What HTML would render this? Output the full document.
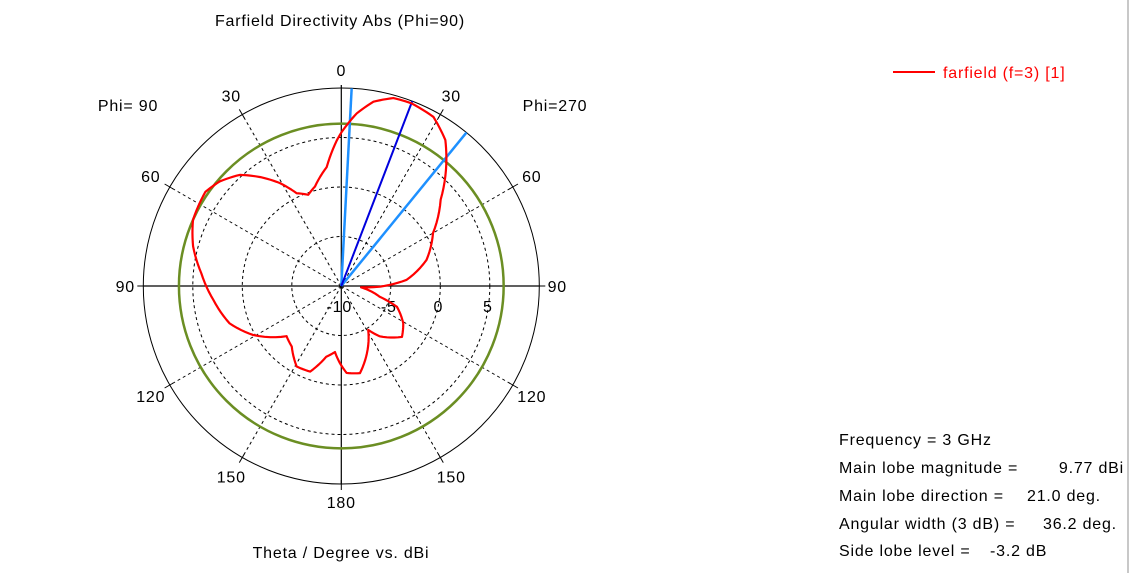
<!DOCTYPE html>
<html><head><meta charset="utf-8"><style>
html,body{margin:0;padding:0;background:#fff;width:1137px;height:573px;overflow:hidden}
svg{display:block}
text{font-family:"Liberation Sans",sans-serif;font-size:16px;fill:#000;letter-spacing:0.8px}
</style></head><body>
<svg id="chart" width="1137" height="573">
<line x1="1128" y1="0" x2="1128" y2="573" stroke="#c8c8c8" stroke-width="2"/>
<text x="340" y="26" text-anchor="middle">Farfield Directivity Abs (Phi=90)</text>
<g id="grid"></g>
<g id="marks"></g>
<text x="341" y="558" text-anchor="middle">Theta / Degree vs. dBi</text>
<text x="128" y="111" text-anchor="middle">Phi= 90</text>
<text x="555" y="111" text-anchor="middle">Phi=270</text>
<g>
<line x1="893" y1="72" x2="935" y2="72" stroke="#ff0000" stroke-width="2"/>
<text x="943" y="78" style="fill:#ff0000">farfield (f=3) [1]</text>
</g>
<g>
<text x="839" y="445">Frequency = 3 GHz</text>
<text x="839" y="473">Main lobe magnitude =</text>
<text x="1124" y="473" text-anchor="end">9.77 dBi</text>
<text x="839" y="501">Main lobe direction =</text>
<text x="1027" y="501">21.0 deg.</text>
<text x="839" y="529">Angular width (3 dB) =</text>
<text x="1043" y="529">36.2 deg.</text>
<text x="839" y="556">Side lobe level =</text>
<text x="990" y="556">-3.2 dB</text>
</g>
</svg>
<script>
const thetaDeg = [0,5.1,9.9,15.5,21,28.6,35.5,40.6,49,60,73,84.7,91,94,97,105.5,110.5,121,130,142.6,148.5,159.3,167.9,176.5,181,185.5,192,200,209,219.3,227.5,241,251.5,263.8,275.2,285,294,304.7,310.7,317.6,323.4,329.2,334.3,340.1,345.2,353,358.2,360];
const gainDb = [5.5,7.5,8.9,9.7,9.77,9.45,8.1,6.3,3.3,0.7,-1.0,-3.4,-6.1,-8.0,-7.5,-6.0,-4.0,-2.7,-2.0,-3.6,-4.8,-2.7,-1.0,-1.2,-2.2,-3.3,-2.7,-0.8,-0.7,-2.1,-2.5,0.2,1.9,3.0,4.2,5.5,6.4,6.7,6.2,5.2,3.7,2.1,0.4,-0.2,0.4,2.1,4.7,5.5];
const ringDb = [-5,0,5];
const ringLabels = ["-10","-5","0","5"];
const angleLabels = ["0","30","60","90","120","150","180","150","120","90","60","30"];
const mainLobeDir = [21.0];
const beamEdges = [3.0,39.2];
const threeDbLevel = [6.4];

const CX=341.3, CY=286, R=198, MIN=-10, MAX=10;
const rScale = d => Math.max(0,(d-MIN)/(MAX-MIN)*R);
const px = (a,r) => CX + r*Math.sin(a*Math.PI/180);
const py = (a,r) => CY - r*Math.cos(a*Math.PI/180);
const NS="http://www.w3.org/2000/svg";
const grid=document.getElementById('grid'), marks=document.getElementById('marks');
function mk(tag,attrs,parent){const e=document.createElementNS(NS,tag);for(const k in attrs)e.setAttribute(k,attrs[k]);parent.appendChild(e);return e;}

ringDb.forEach(d=>{
  const c=mk('circle',{cx:CX,cy:CY,r:rScale(d),fill:'none',stroke:'#000','stroke-dasharray':'3,3','stroke-width':1},grid);
  
  
});
for(let a=30;a<360;a+=30){
  if(a%90===0)continue;
  const l=mk('line',{x1:CX,y1:CY,x2:px(a,R),y2:py(a,R),stroke:'#000','stroke-dasharray':'3,3','stroke-width':1},grid);
  
  
}
const outer=mk('circle',{cx:CX,cy:CY,r:R,fill:'none',stroke:'#000','stroke-width':1},grid);


const ax1=mk('line',{x1:CX-R,y1:CY,x2:CX+R,y2:CY,stroke:'#000','stroke-width':1.2},grid);


const ax2=mk('line',{x1:CX,y1:CY-R-3,x2:CX,y2:CY+R,stroke:'#000','stroke-width':1.2},grid);


for(let a=30;a<360;a+=30){
  const t=mk('line',{x1:px(a,R-4),y1:py(a,R-4),x2:px(a,R+6),y2:py(a,R+6),stroke:'#000','stroke-width':1},grid);
  
  
}
angleLabels.forEach((s,i)=>{
  const a=i*30, rr=(a%90===0)?R+18:R+22;
  const t=mk('text',{x:px(a,rr),y:py(a,rr)+6,'text-anchor':'middle'},grid);
  t.textContent=s;
  
  
});
ringLabels.forEach((s,i)=>{
  const t=mk('text',{x:CX+i*(R/4)-2,y:CY+26,'text-anchor':'middle'},grid);
  t.textContent=s;
  
  
});

const g3=mk('circle',{cx:CX,cy:CY,r:rScale(threeDbLevel[0]),fill:'none',stroke:'#6b8e23','stroke-width':2.5},marks);


beamEdges.forEach(a=>{
  const l=mk('line',{x1:CX,y1:CY,x2:px(a,R),y2:py(a,R),stroke:'#1e90ff','stroke-width':2.5},marks);
  
  
});
const ml=mk('line',{x1:CX,y1:CY,x2:px(mainLobeDir[0],R),y2:py(mainLobeDir[0],R),stroke:'#0000dd','stroke-width':2},marks);



let pts=[];
for(let i=0;i<thetaDeg.length-1;i++){
  const n=6;
  for(let k=0;k<n;k++){
    const f=k/n, a=thetaDeg[i]+(thetaDeg[i+1]-thetaDeg[i])*f, d=gainDb[i]+(gainDb[i+1]-gainDb[i])*f;
    pts.push(px(a,rScale(d)).toFixed(2)+','+py(a,rScale(d)).toFixed(2));
  }
}
const last=thetaDeg.length-1;
pts.push(px(thetaDeg[last],rScale(gainDb[last])).toFixed(2)+','+py(thetaDeg[last],rScale(gainDb[last])).toFixed(2));
const curve=mk('polyline',{points:pts.join(' '),fill:'none',stroke:'#ff0000','stroke-width':2.2,'stroke-linejoin':'round'},marks);


</script>
</body></html>
